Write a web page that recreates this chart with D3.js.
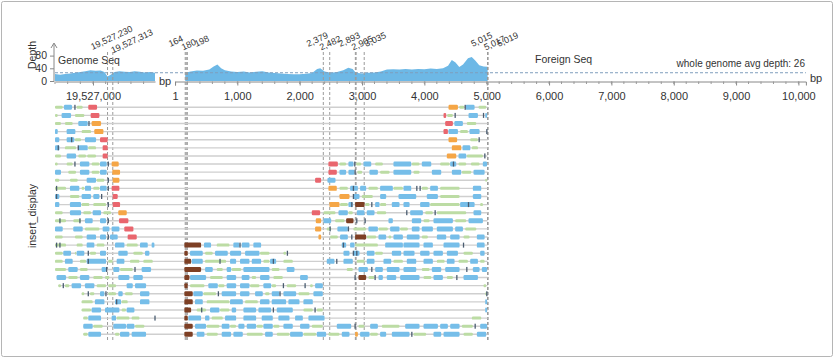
<!DOCTYPE html>
<html><head><meta charset="utf-8">
<script src="https://cdn.jsdelivr.net/npm/d3@7"></script>
<style>
body{margin:0;background:#fff}
svg{display:block;font-family:"Liberation Sans",Arial,sans-serif}
</style>
</head><body>
<svg id="chart" width="839" height="360"></svg>
<script>
// ---------------- DATA ----------------
const genomeOrigin = 19526000;               // genome read positions are offsets from this
const genomeDomain = [19526400, 19527980];
const foreignDomain = [0, 10120];
const genomeTicks = [19527000];
const foreignTicks = [1, 1000, 2000, 3000, 4000, 5000, 6000, 7000, 8000, 9000, 10000];
const depthTicks = [0, 40, 80];
const avgDepth = 26;
const genomeJunctions = [19527230, 19527313];
const foreignJunctions = [164, 180, 198, 2379, 2482, 2893, 2905, 3035, 5015, 5017, 5019];

const genomeCovPos   = [400, 480, 560, 640, 720, 800, 880, 960, 1040, 1120, 1180, 1230, 1280, 1340, 1420, 1500, 1580, 1660, 1740, 1820, 1900, 1980];
const genomeCovDepth = [22, 20, 22, 24, 26, 28, 31, 34, 32, 33, 28, 14, 20, 28, 31, 29, 28, 31, 29, 27, 28, 26];

const foreignCovPos   = [164, 250, 350, 450, 550, 620, 680, 740, 800, 900, 1000, 1100, 1200, 1300, 1400, 1500, 1600, 1700, 1800, 1900, 2000, 2100, 2200, 2280, 2330, 2400, 2500, 2600, 2700, 2780, 2850, 2900, 3000, 3100, 3200, 3300, 3400, 3500, 3600, 3700, 3800, 3900, 4000, 4100, 4200, 4300, 4380, 4440, 4500, 4560, 4620, 4700, 4760, 4820, 4880, 4950, 5015];
const foreignCovDepth = [26, 30, 33, 32, 36, 46, 52, 40, 34, 30, 28, 30, 27, 29, 31, 27, 25, 24, 22, 21, 21, 23, 25, 38, 40, 30, 26, 28, 34, 42, 38, 26, 24, 26, 27, 30, 36, 37, 36, 38, 36, 38, 37, 39, 38, 40, 48, 66, 58, 44, 52, 72, 76, 64, 50, 46, 45];

// reads per row: [start, end, type]; b=read, g=mate, r/o/n=clipped, d=mismatch
const rowsGenome = [
 [[400,531,'g'],[541,678,'b'],[715,715,'d'],[742,847,'g'],[926,1074,'r']],
 [[400,452,'g'],[504,663,'b'],[715,873,'g'],[963,1111,'r']],
 [[400,504,'g'],[557,689,'g'],[768,926,'b'],[937,937,'d'],[979,1137,'o']],
 [[400,452,'b'],[584,731,'b'],[821,979,'g'],[1021,1174,'o']],
 [[400,478,'b'],[584,715,'b'],[663,663,'d'],[715,821,'g'],[873,1058,'b'],[1111,1242,'r']],
 [[400,480,'b'],[452,452,'d'],[557,742,'g'],[768,768,'d'],[770,926,'b'],[926,1058,'g'],[1153,1242,'r']],
 [[400,504,'g'],[584,742,'b'],[768,900,'g'],[910,1058,'g'],[1153,1242,'r']],
 [[400,452,'g'],[584,689,'g'],[715,715,'d'],[794,952,'b'],[979,1111,'g'],[1111,1226,'b'],[1242,1242,'d'],[1295,1416,'o']],
 [[400,504,'b'],[610,742,'g'],[794,952,'b'],[979,1111,'g'],[1111,1226,'b'],[1305,1437,'o']],
 [[400,478,'g'],[636,768,'g'],[900,1058,'b'],[1058,1190,'g'],[1242,1242,'d'],[1311,1427,'o']],
 [[400,584,'g'],[425,425,'d'],[636,794,'b'],[821,873,'g'],[873,979,'b'],[1005,1111,'g'],[1111,1226,'b'],[1242,1242,'d'],[1295,1427,'r']],
 [[400,478,'b'],[425,425,'d'],[636,794,'g'],[821,979,'b'],[1005,1111,'b'],[1137,1137,'d'],[1311,1400,'r']],
 [[400,478,'b'],[636,821,'b'],[821,952,'g'],[1005,1216,'g'],[1242,1242,'d'],[1311,1437,'r']],
 [[400,531,'g'],[636,821,'b'],[847,979,'g'],[995,1137,'b'],[1163,1295,'g'],[1400,1543,'o']],
 [[400,584,'g'],[478,478,'d'],[689,821,'g'],[794,794,'d'],[873,1005,'b'],[1111,1216,'b'],[1242,1242,'d'],[1411,1569,'r']],
 [[400,531,'b'],[689,847,'b'],[873,1111,'g'],[1153,1269,'b'],[1295,1427,'b'],[1495,1648,'r']],
 [[400,531,'g'],[715,847,'g'],[900,1058,'b'],[1111,1216,'b'],[1242,1242,'d'],[1269,1400,'b'],[1548,1701,'r']],
 [[400,584,'g'],[425,425,'d'],[478,478,'d'],[742,847,'g'],[900,1031,'b'],[1058,1190,'g'],[1348,1506,'b'],[1532,1717,'g'],[1743,1875,'b'],[1927,1980,'b']],
 [[400,531,'g'],[531,663,'b'],[715,742,'g'],[742,873,'b'],[926,926,'d'],[952,1058,'g'],[1111,1216,'b'],[1400,1558,'b'],[1638,1796,'g'],[1822,1901,'b']],
 [[400,531,'g'],[557,689,'b'],[794,900,'g'],[900,1216,'b'],[926,926,'d'],[1242,1321,'g'],[1374,1506,'b'],[1585,1743,'g'],[1796,1954,'g']],
 [[400,584,'g'],[610,768,'b'],[794,926,'g'],[1137,1216,'b'],[1216,1216,'d'],[1321,1427,'b'],[1427,1638,'g'],[1664,1664,'d'],[1769,1927,'b']],
 [[425,584,'b'],[610,768,'g'],[794,952,'b'],[1005,1163,'g'],[1190,1269,'g'],[1400,1585,'b'],[1638,1796,'b']],
 [[452,504,'g'],[531,531,'d'],[557,636,'g'],[663,821,'b'],[873,1031,'b'],[1058,1216,'g'],[1242,1374,'g'],[1532,1638,'b'],[1664,1848,'b']],
 [[821,873,'g'],[926,926,'d'],[952,1031,'g'],[1111,1190,'b'],[1205,1205,'d'],[1242,1374,'g'],[1400,1479,'b'],[1506,1638,'g'],[1743,1901,'b']],
 [[821,1005,'g'],[1031,1190,'b'],[1348,1453,'b'],[1374,1374,'d'],[1453,1558,'g'],[1743,1901,'b']],
 [[821,979,'g'],[979,1137,'b'],[1190,1427,'b'],[1453,1532,'g'],[1532,1664,'b']],
 [[847,926,'g'],[926,1137,'b'],[1295,1374,'b'],[1374,1585,'g'],[1611,1743,'g'],[1980,1980,'d']],
 [[847,1005,'b'],[1005,1163,'g'],[1321,1532,'b'],[1532,1664,'b'],[1664,1822,'g']],
 [[847,926,'g'],[926,1137,'b'],[1348,1427,'g'],[1427,1585,'b'],[1611,1848,'b']]
];
const rowsForeign = [
 [[4387,4548,'o'],[4560,4650,'g'],[4655,4655,'d'],[4660,4815,'b'],[4869,5002,'g']],
 [[4307,4360,'r'],[4365,4467,'g'],[4494,4494,'d'],[4708,4869,'b'],[4949,4949,'d'],[4976,5015,'b']],
 [[4334,4467,'r'],[4481,4628,'b'],[4681,4842,'g']],
 [[4307,4387,'r'],[4387,4548,'b'],[4574,4708,'g'],[4724,4895,'b'],[5002,5002,'d']],
 [[4387,4535,'o'],[4735,4869,'g'],[4879,4879,'d']],
 [[4441,4601,'o'],[4612,4746,'b'],[4762,4869,'g']],
 [[4360,4521,'o'],[4548,4681,'b'],[4681,4949,'g'],[4970,4970,'d']],
 [[2461,2622,'r'],[2638,2755,'g'],[2782,2873,'b'],[2884,2884,'d'],[2905,2996,'g'],[3023,3157,'b'],[3210,3344,'g'],[3504,3799,'b'],[3799,3932,'g'],[3959,4120,'b'],[4253,4414,'g'],[4414,4521,'b'],[4467,4467,'d'],[4548,4681,'g'],[4746,4895,'g'],[4938,5015,'b']],
 [[2461,2605,'r'],[2638,2755,'b'],[2782,2889,'b'],[2889,2889,'d'],[2925,3012,'g'],[3119,3264,'b'],[3290,3451,'g'],[3504,3799,'b'],[3825,3932,'g'],[4120,4280,'b'],[4441,4601,'b'],[4601,4762,'g'],[4788,4976,'b']],
 [[2247,2354,'r'],[2445,2584,'b'],[4976,5015,'g']],
 [[2461,2605,'o'],[2638,2782,'g'],[2809,2943,'b'],[2862,2862,'d'],[2969,3076,'b'],[3103,3264,'g'],[3290,3504,'b'],[3504,3665,'g'],[3665,3799,'b'],[3879,3879,'d'],[3932,3932,'d'],[3959,4066,'g'],[4093,4227,'b'],[4253,4574,'g'],[4778,4922,'b']],
 [[2638,2809,'o'],[2862,2862,'d'],[2862,2969,'b'],[2996,3183,'g'],[3290,3397,'b'],[3585,3879,'b'],[4039,4227,'b'],[4253,4574,'g'],[4778,4922,'b']],
 [[2477,2648,'o'],[2648,2782,'g'],[2782,2862,'b'],[2836,2836,'d'],[2889,3050,'n'],[3050,3130,'g'],[3157,3157,'d'],[3210,3290,'b'],[3290,3397,'g'],[3478,3611,'b'],[3665,3772,'b'],[3932,4093,'b'],[4093,4574,'g'],[4574,4815,'b'],[4708,4708,'d'],[4895,4949,'g']],
 [[2194,2338,'r'],[2381,2584,'g'],[2622,2782,'b'],[2782,2862,'g'],[2916,3050,'b'],[3076,3210,'b'],[3237,3397,'g'],[3718,3718,'d'],[3772,3986,'b'],[4013,4146,'g'],[4173,4173,'d'],[4200,4681,'g'],[4788,4922,'b']],
 [[2258,2354,'o'],[2381,2515,'b'],[2568,2729,'g'],[2745,2873,'n'],[2916,2916,'d'],[3050,3050,'d'],[3424,3504,'b'],[3799,3959,'b'],[3986,4093,'g'],[4146,4467,'b'],[4494,4681,'g'],[4708,4949,'b']],
 [[2247,2354,'o'],[2434,2515,'g'],[2488,2488,'d'],[2605,2782,'b'],[2782,2782,'d'],[2862,3076,'g'],[3103,3264,'b'],[3264,3424,'g'],[3451,3611,'b'],[3611,3745,'g'],[3799,3932,'b'],[3959,4146,'b'],[4200,4467,'b'],[4494,4628,'b'],[4655,4842,'g']],
 [[2301,2354,'o'],[2488,2622,'g'],[2648,2782,'b'],[2836,2836,'d'],[2889,3076,'n'],[3076,3237,'g'],[3264,3397,'b'],[3424,3478,'g'],[3504,3665,'b'],[3718,3932,'b'],[3959,4066,'g'],[4200,4360,'b'],[4414,4574,'b'],[4628,4735,'g'],[4842,4976,'b']],
 [[150,428,'n'],[465,588,'b'],[669,883,'g'],[936,1043,'b'],[1043,1043,'d'],[1070,1204,'b'],[1257,1391,'b'],[2675,2755,'b'],[2702,2702,'d'],[2809,2889,'b'],[2889,3264,'g'],[3371,3665,'b'],[3665,3932,'b'],[3986,4146,'b'],[4307,4574,'b'],[4628,4628,'d'],[4842,4976,'b']],
 [[150,214,'n'],[241,455,'b'],[482,615,'g'],[642,856,'b'],[883,1070,'b'],[1124,1364,'b'],[1364,1525,'g'],[1739,1792,'g'],[1803,1803,'d'],[2702,2809,'b'],[2852,2969,'b'],[2862,2862,'d'],[2916,2916,'d'],[3076,3210,'b'],[3210,3344,'g'],[3478,3638,'b'],[3665,3852,'b'],[3932,4093,'b'],[4146,4307,'b'],[4360,4548,'b'],[4628,4788,'g'],[4895,4976,'b']],
 [[150,268,'n'],[268,455,'b'],[482,830,'g'],[722,722,'d'],[883,990,'b'],[1043,1204,'b'],[1231,1391,'b'],[1418,1525,'g'],[1525,1632,'b'],[1578,1578,'d'],[1739,1899,'g'],[2434,2568,'b'],[2595,2595,'d'],[2702,2862,'b'],[2916,3050,'g'],[3076,3210,'b'],[3344,3478,'b'],[3504,3665,'g'],[3718,3879,'b'],[3986,4146,'b'],[4200,4334,'g'],[4360,4494,'b'],[4548,4708,'g'],[4735,4869,'b'],[4895,4976,'g']],
 [[150,428,'n'],[482,615,'b'],[669,776,'g'],[829,910,'b'],[910,1070,'g'],[1097,1525,'b'],[1552,1685,'g'],[1792,1926,'b'],[2755,2862,'g'],[2943,3103,'b'],[3157,3157,'d'],[3210,3344,'b'],[3397,3611,'b'],[3665,3879,'b'],[3959,4093,'g'],[4120,4280,'b'],[4334,4574,'b'],[4681,4681,'d'],[4778,4895,'b'],[4922,5015,'b']],
 [[150,241,'n'],[241,508,'b'],[562,776,'g'],[829,990,'b'],[1070,1204,'b'],[1231,1311,'g'],[1364,1525,'b'],[1578,1739,'g'],[2006,2140,'b'],[2889,2889,'d'],[2943,3076,'n'],[3103,3210,'g'],[3210,3210,'d'],[3264,3344,'b'],[3397,3558,'b'],[3611,3932,'b'],[3986,4120,'g'],[4146,4307,'b'],[4360,4467,'g'],[4521,4521,'d'],[4628,4869,'b']],
 [[150,214,'n'],[241,482,'g'],[535,696,'b'],[696,803,'g'],[829,990,'b'],[1043,1204,'b'],[1204,1364,'g'],[1418,1552,'b'],[1552,1632,'g'],[1739,1739,'d'],[1792,1953,'g'],[2087,2087,'d'],[2167,2220,'g'],[2247,2381,'b'],[4949,5002,'g']],
 [[150,294,'n'],[294,455,'b'],[455,669,'g'],[696,696,'d'],[749,990,'b'],[1043,1204,'b'],[1284,1418,'b'],[1445,1525,'g'],[1552,1685,'b'],[1685,1685,'d'],[1739,1953,'b'],[1980,2167,'g'],[2220,2381,'b'],[4976,5015,'g'],[5002,5002,'d']],
 [[150,294,'n'],[321,455,'b'],[508,883,'g'],[883,1097,'b'],[1124,1338,'g'],[1364,1525,'b'],[1552,1792,'b'],[1819,2006,'b'],[2060,2220,'b'],[4976,5015,'b']],
 [[150,268,'n'],[348,508,'g'],[428,428,'d'],[562,722,'b'],[722,883,'g'],[910,990,'b'],[1097,1311,'b'],[1338,1552,'b'],[1578,1578,'d'],[1632,1899,'b'],[2060,2220,'g'],[2247,2247,'d'],[2274,2381,'g'],[4976,5015,'b']],
 [[150,214,'n'],[214,428,'b'],[482,562,'b'],[588,776,'g'],[803,990,'b'],[1097,1311,'b'],[1391,1578,'b'],[1658,1846,'b'],[1926,2060,'b'],[2140,2408,'b'],[4762,4922,'g']],
 [[150,294,'n'],[321,508,'b'],[508,722,'g'],[749,883,'b'],[883,990,'g'],[1016,1124,'b'],[1150,1311,'b'],[1311,1418,'g'],[1418,1578,'b'],[1578,1685,'g'],[1739,1899,'b'],[2006,2167,'b'],[2194,2381,'g'],[2595,2836,'b'],[2889,2889,'d'],[2943,3050,'g'],[3130,3264,'b'],[3317,3611,'g'],[3692,3932,'b'],[3986,4227,'b'],[4253,4387,'b'],[4414,4574,'b'],[4601,4788,'g'],[4815,4815,'d'],[4895,5015,'b']],
 [[150,294,'n'],[348,482,'b'],[508,696,'g'],[749,910,'b'],[936,1097,'b'],[1150,1418,'g'],[1445,1578,'b'],[1632,1846,'g'],[1846,2060,'b'],[2060,2274,'g'],[2274,2434,'b'],[2461,2648,'g'],[2675,2809,'b'],[2889,2943,'o'],[2969,3130,'b'],[3130,3264,'g'],[3290,3397,'b'],[3478,3772,'b'],[3799,3799,'d'],[3825,4039,'g'],[4146,4280,'b'],[4307,4574,'b'],[4628,4788,'g'],[4842,5002,'b']]
];
const foreignEnd = 5015;

// ---------------- STYLE ----------------
const colors = {b:'#76bee9', g:'#bcdca4', r:'#e9666e', o:'#f5a646', n:'#7d3f24', d:'#4a5c70'};
const heights = {b:5, g:3, r:5, o:5, n:5, d:5};

// ---------------- SCALES ----------------
const svg = d3.select('#chart');
const gx = d3.scaleLinear().domain(genomeDomain).range([55, 155]);
const fx = d3.scaleLinear().domain(foreignDomain).range([175, 805.9]);
const ys = d3.scaleLinear().domain([0, 115]).range([81, 44.5]);
const ry = d3.scalePoint().domain(d3.range(rowsGenome.length)).range([107.3, 334.3]);

// frame
svg.append('rect').attr('x',1.5).attr('y',1.5).attr('width',831).attr('height',355)
  .attr('rx',2).attr('fill','none').attr('stroke','#b5b5b5');

// coverage areas
const gCov = genomeCovPos.map((p,i)=>({x: gx(genomeOrigin+p), d: genomeCovDepth[i]}));
const fCov = foreignCovPos.map((p,i)=>({x: fx(p), d: foreignCovDepth[i]}));
const area = d3.area().x(d=>d.x).y0(ys(0)).y1(d=>ys(d.d));
svg.append('path').datum(gCov).attr('d',area).attr('fill','#6db8e6');
svg.append('path').datum(fCov).attr('d',area).attr('fill','#6db8e6');

// avg depth line
svg.append('line').attr('x1',gx.range()[0]).attr('x2',fx.range()[1])
  .attr('y1',ys(avgDepth)).attr('y2',ys(avgDepth))
  .attr('stroke','#7f9fbd').attr('stroke-width',1).attr('stroke-dasharray','3,2');

// axes
function styleAxis(g){
  g.selectAll('path,line').attr('stroke','#888');
  g.selectAll('text').attr('fill','#333').style('font-size','11px').style('font-family','"Liberation Sans",Arial,sans-serif');
}
const axG = svg.append('g').attr('transform','translate(0,81.5)')
  .call(d3.axisBottom(gx).tickValues(genomeTicks).tickFormat(d3.format(',')).tickSize(4).tickSizeOuter(0));
styleAxis(axG);
axG.selectAll('text').attr('dy','1.05em');
const axF = svg.append('g').attr('transform','translate(0,81.5)')
  .call(d3.axisBottom(fx).tickValues(foreignTicks).tickFormat(d3.format(',')).tickSize(4).tickSizeOuter(4));
styleAxis(axF);
axF.selectAll('text').attr('dy','1.05em');
// minor ticks every 200 bp
const gMinor = d3.range(Math.ceil(genomeDomain[0]/200)*200, genomeDomain[1], 200);
svg.append('g').selectAll('line').data(gMinor).join('line')
  .attr('x1',d=>gx(d)).attr('x2',d=>gx(d)).attr('y1',81.5).attr('y2',84).attr('stroke','#999');
const fMinor = d3.range(200, 10001, 200);
svg.append('g').selectAll('line').data(fMinor).join('line')
  .attr('x1',d=>fx(d)).attr('x2',d=>fx(d)).attr('y1',81.5).attr('y2',84).attr('stroke','#999');

svg.append('text').attr('x',159).attr('y',85).text('bp').attr('fill','#333').style('font-size','11px');
svg.append('text').attr('x',810).attr('y',82).text('bp').attr('fill','#333').style('font-size','11px');

// y axis
const axY = svg.append('g').attr('transform','translate(54,0)')
  .call(d3.axisLeft(ys).tickValues(depthTicks).tickSize(4).tickSizeOuter(0));
axY.select('.domain').remove();
styleAxis(axY);
axY.selectAll('text').style('font-size','10.5px');
svg.append('line').attr('x1',54).attr('x2',54).attr('y1',ys(0)+0.5).attr('y2',44)
  .attr('stroke','#888');
svg.append('path').attr('d','M51,48 L54,43 L57,48').attr('fill','none').attr('stroke','#888');
svg.append('text').attr('transform','translate(36,55) rotate(-90)').attr('text-anchor','middle')
  .text('Depth').attr('fill','#333').style('font-size','10.5px');

// region titles
svg.append('text').attr('x',58).attr('y',64).text('Genome Seq').attr('fill','#333').style('font-size','10.5px');
svg.append('text').attr('x',535).attr('y',63).text('Foreign Seq').attr('fill','#333').style('font-size','10.5px');
svg.append('text').attr('x',805).attr('y',67).attr('text-anchor','end')
  .text('whole genome avg depth: ' + avgDepth).attr('fill','#333').style('font-size','10px');

// junction lines
const junc = genomeJunctions.map(v=>({v, x:gx(v)})).concat(foreignJunctions.map(v=>({v, x:fx(v)})));
svg.append('g').selectAll('line').data(junc).join('line')
  .attr('x1',d=>d.x).attr('x2',d=>d.x).attr('y1',52).attr('y2',341)
  .attr('stroke','#9a9a9a').attr('stroke-width',1).attr('stroke-dasharray','3,2');

// junction labels with simple collision push
function placeLabels(list, baseY){
  let prevX = -Infinity, prevW = 0, k = 0;
  list.forEach(d=>{
    const t = svg.append('text').attr('fill','#333').style('font-size','9px').text(d3.format(',')(d.v));
    const w = t.node().getComputedTextLength();
    let sx = d.x - 15;
    const step = Math.max(13, prevW*0.45);
    if (sx < prevX + step) { sx = prevX + step; k++; } else { k = 0; }
    const sy = (k % 2 === 1) ? baseY + 3.5 : baseY;
    t.attr('transform',`translate(${sx},${sy}) rotate(-25)`);
    prevX = sx; prevW = w;
  });
}
placeLabels(genomeJunctions.map(v=>({v, x:gx(v)})), 50);
placeLabels(foreignJunctions.map(v=>({v, x:fx(v)})), 47);

// reads
const rowsG = svg.append('g');
rowsGenome.forEach((segsG, i)=>{
  const segsF = rowsForeign[i];
  const y = ry(i);
  const x0 = segsG.length ? gx(genomeOrigin + d3.min(segsG, s=>s[0])) : fx(d3.min(segsF, s=>s[0]));
  const x1 = fx(Math.max(foreignEnd, d3.max(segsF, s=>s[1])));
  rowsG.append('line').attr('x1',x0).attr('x2',x1).attr('y1',y).attr('y2',y)
    .attr('stroke','#cfcfcf').attr('stroke-width',1.4);
  const all = segsG.map(s=>({a:gx(genomeOrigin+s[0]), b:gx(genomeOrigin+s[1]), t:s[2]}))
    .concat(segsF.map(s=>({a:fx(s[0]), b:fx(s[1]), t:s[2]})));
  const order = {g:0, b:1, r:2, o:2, n:2, d:3};
  all.sort((p,q)=>order[p.t]-order[q.t]);
  all.forEach(s=>{
    const h = heights[s.t];
    const w = s.t==='d' ? 1.3 : Math.max(1.2, s.b - s.a - 0.6);
    const xx = s.t==='d' ? s.a - 0.65 : s.a;
    rowsG.append('rect').attr('x',xx).attr('y',y - h/2).attr('width',w).attr('height',h)
      .attr('rx', s.t==='d' ? 0 : 1.2).attr('fill',colors[s.t]);
  });
});

// row axis label
svg.append('text').attr('transform','translate(36,216) rotate(-90)').attr('text-anchor','middle')
  .text('insert_display').attr('fill','#333').style('font-size','10.5px');
</script>
</body></html>
